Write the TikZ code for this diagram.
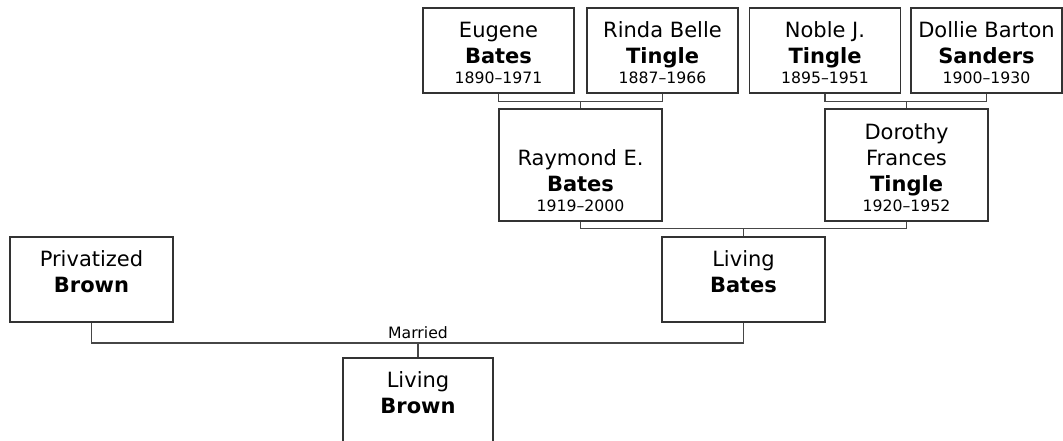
\documentclass[tikz,border=0pt]{standalone}
\usepackage{fontspec}
\setmainfont{DejaVu Sans}
\usepackage{tikz}
\definecolor{BoxLine} {RGB}{51,51,51}
\definecolor{LinkLine}{RGB}{70,70,70}
\newcommand{\yrs}{\fontsize{11.75}{13}\selectfont}
\tikzset{
  pbox/.style={draw=BoxLine,line width=1.1pt,minimum width=113.25pt,minimum height=63.75pt,inner sep=0pt},
  ptxt/.style={anchor=south,align=center,inner xsep=0pt,inner ysep=7.5pt,font=\fontsize{15.75}{19.5}\selectfont},
  link/.style={draw=LinkLine,line width=1.1pt}
}
\begin{document}
\begin{tikzpicture}[x=0.75pt,y=-0.75pt]
\useasboundingbox (0,0) rectangle (1063,441);
% grandparents
\node[pbox] (eugene) at (498.5,50.5) {};
\node[ptxt] (eugeneT) at (eugene.south) {Eugene\\\textbf{Bates}\\[-4.5pt]{\yrs 1890--1971}};
\node[pbox] (rinda) at (662.5,50.5) {};
\node[ptxt] (rindaT) at (rinda.south) {Rinda Belle\\\textbf{Tingle}\\[-4.5pt]{\yrs 1887--1966}};
\node[pbox] (noble) at (825,50.5) {};
\node[ptxt] (nobleT) at (noble.south) {Noble J.\\\textbf{Tingle}\\[-4.5pt]{\yrs 1895--1951}};
\node[pbox] (dollie) at (986.5,50.5) {};
\node[ptxt] (dollieT) at (dollie.south) {Dollie Barton\\\textbf{Sanders}\\[-4.5pt]{\yrs 1900--1930}};
% parents
\node[pbox,minimum width=122.25pt,minimum height=84pt] (raymond) at (580.5,165) {};
\node[ptxt] (raymondT) at (raymond.south) {Raymond E.\\\textbf{Bates}\\[-4.5pt]{\yrs 1919--2000}};
\node[pbox,minimum width=122.25pt,minimum height=84pt] (dorothy) at (906.5,165) {};
\node[ptxt] (dorothyT) at (dorothy.south) {Dorothy\\Frances\\\textbf{Tingle}\\[-4.5pt]{\yrs 1920--1952}};
% couple and child
\node[pbox,minimum width=122.25pt] (privBrown) at (91.5,279.5) {};
\node[ptxt] (privBrownT) at (privBrown.south) {Privatized\\\textbf{Brown}\\[-4.5pt]{\yrs\phantom{0}}};
\node[pbox,minimum width=122.25pt] (livBates) at (743.5,279.5) {};
\node[ptxt] (livBatesT) at (livBates.south) {Living\\\textbf{Bates}\\[-4.5pt]{\yrs\phantom{0}}};
\node[pbox,minimum width=112.5pt] (livBrown) at (418,400.5) {};
\node[ptxt] (livBrownT) at (livBrown.south) {Living\\\textbf{Brown}\\[-4.5pt]{\yrs\phantom{0}}};
% junctions
\coordinate (j1) at (580.5,101.5);
\coordinate (j2) at (906.5,101.5);
\coordinate (j3) at (743.5,228.5);
\coordinate (j4) at (418,343);
\foreach \a/\b/\j/\c in {eugene/rinda/j1/raymond,noble/dollie/j2/dorothy,raymond/dorothy/j3/livBates,privBrown/livBates/j4/livBrown}
  \draw[link] (\a.south) |- (\j) -| (\b.south) (\j) -- (\c.north);
\node[font=\yrs,anchor=base] (married) at (418,339) {Married};
\end{tikzpicture}
\end{document}
